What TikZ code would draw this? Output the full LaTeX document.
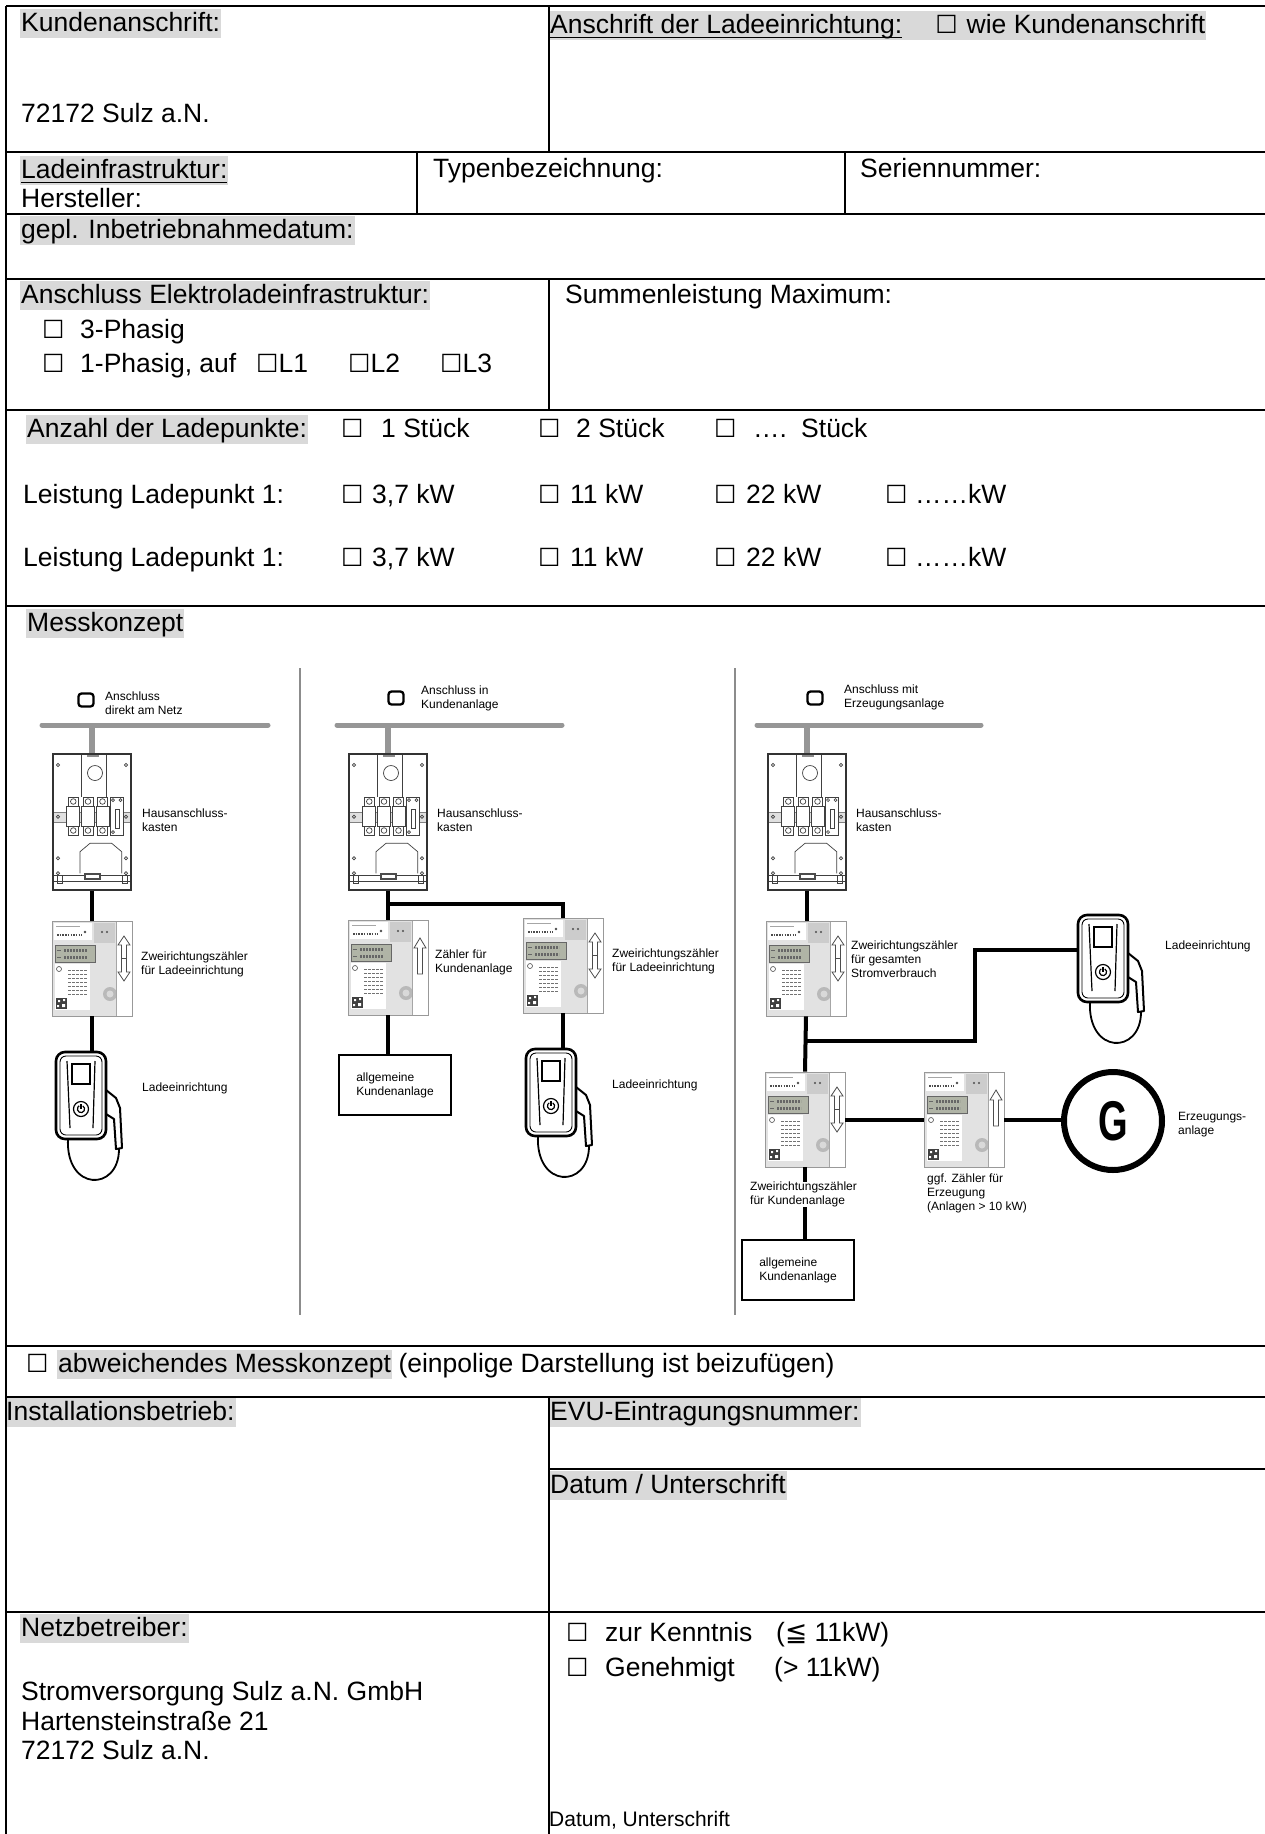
\documentclass[tikz,border=0pt]{standalone}
\usepackage{fontspec}
\setmainfont{Liberation Sans}
\newfontfamily\djv{DejaVu Sans}
\usepackage{graphicx}
\usetikzlibrary{calc}
\definecolor{hlgray}{RGB}{217,217,217}
\definecolor{busgray}{RGB}{150,150,150}
\definecolor{divgray}{RGB}{140,140,140}
\definecolor{lcd}{RGB}{176,180,166}
\definecolor{photo}{RGB}{226,226,226}
\newcommand\mainsz{\fontsize{26.5}{31}\selectfont}
\newcommand\smallsz{\fontsize{12}{13.8}\selectfont}
\newcommand\cb{{\djv\fontsize{25}{25}\selectfont ☐}}
\newcommand\ulx[1]{\setbox0\hbox{#1}\rlap{\rule[-5pt]{\wd0}{1.4pt}}\box0}
% meter arrows
\newcommand\arrD{\draw[black!70,fill=white,line width=0.8pt] (72,15) -- (78,24) -- (74.5,24) -- (74.5,51) -- (78,51) -- (72,60) -- (66,51) -- (69.5,51) -- (69.5,24) -- (66,24) -- cycle; \draw[black!70,line width=0.8pt] (69.5,37.5) -- (74.5,37.5);}
\newcommand\arrU{\draw[black!70,fill=white,line width=0.8pt] (72,18) -- (78,28) -- (74.5,28) -- (74.5,54) -- (69.5,54) -- (69.5,28) -- (66,28) -- cycle;}
% electricity meter: name, x, y (top left), arrow
\newcommand\meter[4]{%
 \begin{scope}[shift={(#2,#3)}]
  \fill[photo] (0.5,0.5) rectangle (64.5,94.5);
  \fill[white] (2,2) rectangle (40,19);
  \draw[gray!70,line width=0.5pt] (4,5) -- (28,5);
  \draw[black!70,line width=2.5pt,dash pattern=on 1.5pt off 1.2pt] (5,14) -- (30,14);
  \fill[black!70] (33,11) circle (1.3);
  \fill[gray!40] (42,2) rectangle (63,22);
  \fill[black!70] (50,11) circle (1.2) (55,11) circle (1.2);
  \fill[lcd] (3,24) rectangle (43,41);
  \draw[black!60,line width=0.5pt] (3,24) rectangle (43,41);
  \draw[black!60,line width=3pt,dash pattern=on 2pt off 1pt] (12,29) -- (36,29) (12,36) -- (36,36);
  \draw[black!60,line width=1pt] (5,29)--(9,29) (5,36)--(9,36);
  \fill[white] (3,43) rectangle (38,89);
  \foreach \yy in {49,53,57,61,65,69,73} {\draw[black!55,line width=0.8pt,dash pattern=on 3pt off 1pt] (16,\yy) -- (36,\yy);}
  \draw[black!70,line width=0.6pt] (7,48) circle (2.5);
  \fill[black!75] (4,77) rectangle (15,88);
  \fill[white] (6,79) rectangle (8,81) (10,83) rectangle (13,86) (5,84) rectangle (7,86) (11,78) rectangle (13,80);
  \fill[gray!55] (58,73) circle (7);
  \fill[gray!30] (58,73) circle (3.5);
  \fill[white] (64.5,0.5) rectangle (79.5,94.5);
  \draw[gray!70,line width=0.6pt] (64.5,0.5) -- (64.5,94.5);
  #4
 \end{scope}
 \node[meterbox] (#1) at (#2+40,#3+47.5) {};}
% house connection box
\newcommand\hak[3]{%
 \begin{scope}[shift={(#2,#3)},line width=0.7pt,draw=black!75]
  \fill[white] (0,0) rectangle (78,136);
  \fill[black!12] (0,58) rectangle (78,68);
  \draw[black!50] (0,58) -- (78,58) (0,68) -- (78,68);
  \draw (28.7,0) -- (28.7,43) (53.7,0) -- (53.7,43);
  \draw (42,19) circle (7.5);
  \foreach \xx in {15.3,30,44.5} {\draw[fill=white] (\xx,43) rectangle ++(10,9); \draw (\xx+5,47.5) circle (2.8); \draw[fill=white] (\xx-1.5,52) rectangle ++(13,20); \draw[fill=white] (\xx,72) rectangle ++(10,9); \draw (\xx+5,76.5) circle (2.8);}
  \draw[fill=white] (57.5,43) rectangle (70.5,81);
  \draw (62,55) rectangle (66.5,74);
  \draw (60,46) circle (1.5) (67.5,46) circle (1.5) (60,78) circle (1.5);
  \foreach \yy in {11,62.7,104.3,119.3} {\draw (5,\yy) circle (1.6); \draw (73,\yy) circle (1.6);}
  \draw (27,119.3) -- (27,97.7) -- (37,89.3) -- (58.7,89.3) -- (68.7,97.7) -- (68.7,119.3);
  \draw (0,121) -- (78,121) (0,127) -- (78,127);
  \draw (4,121) rectangle (9,129) (69,121) rectangle (74,129);
  \fill[black!70] (31,119) rectangle (48,126);
  \fill[white] (33,121) rectangle (46,124);
  \fill[black!45] (33.5,0) rectangle (45.5,3);
 \end{scope}
 \node[hakbox] (#1) at (#2+39,#3+68) {};}
% charging station
\newcommand\wallbox[3]{%
 \begin{scope}[shift={(#2,#3)}]
  \draw[line width=2pt,fill=white,line join=round] (50,38) -- (60,46) -- (64,56) -- (66,96) -- (60,97) -- (58,67) -- (50,62);
  \draw[line width=1.8pt] (12,86) .. controls (9,140) and (63,140) .. (63,97);
 \end{scope}
 \node[wbbox] (#1) at (#2+25,#3+43.5) {};
 \begin{scope}[shift={(#2,#3)}]
  \draw[line width=0.9pt,rounded corners=6pt] (4,4) rectangle (46,83);
  \draw[line width=1.2pt] (11,9) -- (14,76) (39,9) -- (37,76);
  \draw[line width=1.3pt] (16,12) rectangle (34,32);
  \draw[line width=1.2pt] (25,57) circle (7.5);
  \draw[line width=1.2pt] ([shift={(300:3.6)}]25,57) arc[start angle=300,end angle=600,radius=3.6];
  \draw[line width=1.2pt] (25,52) -- (25,57);
 \end{scope}}
\begin{document}
\begin{tikzpicture}[x=1pt,y=-1pt,
  tl/.style={draw=black,line width=1.3pt},
  lbl/.style={anchor=base west,inner xsep=1pt,inner ysep=0pt,text height=22pt,text depth=7pt,font=\mainsz},
  hl/.style={lbl,fill=hlgray},
  dl/.style={anchor=north west,inner sep=0pt,font=\smallsz,align=left},
  wire/.style={line width=4pt,black},
  bus/.style={line width=5pt,busgray,line cap=round},
  stub/.style={line width=6pt,busgray},
  divline/.style={line width=2.5pt,divgray},
  cbx/.style={draw,line width=2.3pt,rounded corners=3pt,minimum width=15pt,minimum height=13pt,inner sep=0pt},
  meterbox/.style={draw=gray!80,line width=0.8pt,minimum width=80pt,minimum height=95pt,inner sep=0pt},
  hakbox/.style={draw=black!80,line width=1.1pt,minimum width=78pt,minimum height=136pt,inner sep=0pt},
  wbbox/.style={draw,line width=2.6pt,rounded corners=9pt,minimum width=50pt,minimum height=87pt,inner sep=0pt,fill=white},
  gbox/.style={draw,line width=1.8pt,minimum width=112pt,minimum height=60pt,inner sep=0pt,font=\smallsz,align=left},
  gen/.style={circle,draw,line width=6pt,minimum size=98pt,inner sep=0pt,font=\fontsize{56}{56}\selectfont\bfseries}
]
\fill[white] (0,0) rectangle (1265,1834);
\useasboundingbox (0,0) rectangle (1265,1834);

% ---------- texts of the form ----------
\node[hl] (t1) at (20,31) {Kundenanschrift:};
\node[hl] (t2) at (549,33) {\ulx{Anschrift der Ladeeinrichtung:}\hspace{33pt}\cb\hspace{9pt}wie Kundenanschrift};
\node[lbl] (t3) at (20,122) {72172 Sulz a.N.};
\node[hl] (t4) at (20,178) {\ulx{Ladeinfrastruktur:}};
\node[lbl] (t5) at (20,207) {Hersteller:};
\node[lbl] (t6) at (432,177) {Typenbezeichnung:};
\node[lbl] (t7) at (859,177) {Seriennummer:};
\node[hl] (t8) at (20,238) {gepl. Inbetriebnahmedatum:};
\node[hl] (t9) at (20,303) {Anschluss Elektroladeinfrastruktur:};
\node[lbl] (c1) at (41,338) {\cb};
\node[lbl] (t10) at (79,338) {3-Phasig};
\node[lbl] (c2) at (41,372) {\cb};
\node[lbl] (t11) at (79,372) {1-Phasig, auf};
\node[lbl] (t12) at (255,372) {\cb L1};
\node[lbl] (t13) at (347,372) {\cb L2};
\node[lbl] (t14) at (439,372) {\cb L3};
\node[lbl] (t15) at (564,303) {Summenleistung Maximum:};

\node[hl] (t16) at (26,437) {Anzahl der Ladepunkte:};
\node[lbl] (c3) at (340,437) {\cb};
\node[lbl] (t17) at (380,437) {1 Stück};
\node[lbl] (c4) at (537,437) {\cb};
\node[lbl] (t18) at (575,437) {2 Stück};
\node[lbl] (c5) at (713,437) {\cb};
\node[lbl] (t19) at (752,437) {….};
\node[lbl] (t20) at (800,437) {Stück};

\node[lbl] (t21) at (22,503) {Leistung Ladepunkt 1:};
\node[lbl] (c6) at (340,503) {\cb};
\node[lbl] (t22) at (371,503) {3,7 kW};
\node[lbl] (c7) at (537,503) {\cb};
\node[lbl] (t23) at (569,503) {11 kW};
\node[lbl] (c8) at (713,503) {\cb};
\node[lbl] (t24) at (745,503) {22 kW};
\node[lbl] (c9) at (884,503) {\cb};
\node[lbl] (t25) at (914,503) {……kW};

\node[lbl] (t26) at (22,566) {Leistung Ladepunkt 1:};
\node[lbl] (c10) at (340,566) {\cb};
\node[lbl] (t27) at (371,566) {3,7 kW};
\node[lbl] (c11) at (537,566) {\cb};
\node[lbl] (t28) at (569,566) {11 kW};
\node[lbl] (c12) at (713,566) {\cb};
\node[lbl] (t29) at (745,566) {22 kW};
\node[lbl] (c13) at (884,566) {\cb};
\node[lbl] (t30) at (914,566) {……kW};

\node[hl] (t31) at (26,631) {Messkonzept};

\node[lbl] (c20) at (25,1372) {\cb};
\node[hl] (t32) at (57,1372) {abweichendes Messkonzept};
\node[lbl,inner xsep=0pt,xshift=6pt] (t33) at (t32.base east) {(einpolige Darstellung ist beizufügen)};

\node[hl] (t34) at (5,1420) {Installationsbetrieb:};
\node[hl] (t35) at (549,1420) {EVU-Eintragungsnummer:};
\node[hl] (t36) at (549,1493) {Datum / Unterschrift};

\node[hl] (t37) at (20,1636) {Netzbetreiber:};
\node[lbl] (t38) at (20,1700) {Stromversorgung Sulz a.N. GmbH};
\node[lbl] (t39) at (20,1730) {Hartensteinstraße 21};
\node[lbl] (t40) at (20,1759) {72172 Sulz a.N.};
\node[lbl] (c21) at (565,1641) {\cb};
\node[lbl] (t41) at (604,1641) {zur Kenntnis};
\node[lbl] (t42) at (775,1641) {({\djv ≦} 11kW)};
\node[lbl] (c22) at (565,1676) {\cb};
\node[lbl] (t43) at (604,1676) {Genehmigt};
\node[lbl] (t44) at (773,1676) {(> 11kW)};
\node[anchor=base west,inner sep=0pt,font=\fontsize{21}{24}\selectfont] (t45) at (549,1826) {Datum, Unterschrift};

% ---------- table lines ----------
\draw[tl] (6,6) -- (1265,6);
\draw[tl] (6,6) -- (6,1834);
\foreach \yy in {152,214,279,410,606,1346,1397,1612} {\draw[tl] (6,\yy) -- (1265,\yy);}
\draw[tl] (549,6) -- (549,152);
\draw[tl] (417,152) -- (417,214);
\draw[tl] (845,152) -- (845,214);
\draw[tl] (549,279) -- (549,410);
\draw[tl] (549,1397) -- (549,1834);
\draw[tl] (549,1469) -- (1265,1469);

% ---------- Messkonzept diagrams ----------
\draw[divline] (300,668) -- (300,1315);
\draw[divline] (735,668) -- (735,1315);

% panel 1
\node[cbx] (k1) at (86,700) {};
\node[dl] (a1) at (105,691.5) {Anschluss\\direkt am Netz};
\coordinate (b1w) at (42,725);
\coordinate (b1e) at (268,725);
\draw[bus] (b1w) -- (b1e);
\hak{h1}{53}{754}
\draw[stub] (h1.north |- b1w) -- (h1.north);
\meter{m1}{52}{921}{\arrD}
\wallbox{w1}{56}{1052}
\draw[wire] (h1.south) -- (h1.south |- m1.north);
\draw[wire] (m1.south) -- (m1.south |- w1.north);
\node[dl] (a2) at (142,809) {Hausanschluss-\\kasten};
\node[dl] (a3) at (141,951.5) {Zweirichtungszähler\\für Ladeeinrichtung};
\node[dl] (a4) at (142,1083) {Ladeeinrichtung};

% panel 2
\node[cbx] (k2) at (396,698) {};
\node[dl] (a5) at (421,685.5) {Anschluss in\\Kundenanlage};
\coordinate (b2w) at (337,725);
\coordinate (b2e) at (562,725);
\draw[bus] (b2w) -- (b2e);
\hak{h2}{349}{754}
\draw[stub] (h2.north |- b2w) -- (h2.north);
\meter{m2a}{348}{920}{\arrU}
\meter{m2b}{523}{918}{\arrD}
\coordinate (jy2) at (0,904);
\coordinate (j2) at (h2.south |- jy2);
\draw[wire] (h2.south) -- (j2) -| (m2b.north);
\draw[wire] (j2) -- (j2 |- m2a.north);
\node[gbox] (g2) at (395,1085) {allgemeine\\Kundenanlage};
\draw[wire] (m2a.south) -- (m2a.south |- g2.north);
\wallbox{w2}{526}{1049}
\draw[wire] (m2b.south) -- (m2b.south |- w2.north);
\node[dl] (a6) at (437,809) {Hausanschluss-\\kasten};
\node[dl] (a7) at (435,949.5) {Zähler für\\Kundenanlage};
\node[dl] (a8) at (612,948.5) {Zweirichtungszähler\\für Ladeeinrichtung};
\node[dl] (a9) at (612,1080) {Ladeeinrichtung};

% panel 3
\node[cbx] (k3) at (815,698) {};
\node[dl] (a10) at (844,685) {Anschluss mit\\Erzeugungsanlage};
\coordinate (b3w) at (757,725);
\coordinate (b3e) at (981,725);
\draw[bus] (b3w) -- (b3e);
\hak{h3}{768}{754}
\draw[stub] (h3.north |- b3w) -- (h3.north);
\meter{m3a}{766}{921}{\arrD}
\meter{m3b}{765}{1072}{\arrD}
\meter{m3c}{924}{1072}{\arrU}
\wallbox{w3}{1078}{915}
\node[gen] (G) at (1113,1121) {\scalebox{0.68}[1]{G}};
\draw[wire] (h3.south) -- (h3.south |- m3a.north);
\draw[wire] (m3a.south) -- (m3b.north);
\coordinate (jy3) at (0,1041);
\coordinate (j3) at (m3a.south |- jy3);
\coordinate (k3c) at (975,950);
\draw[wire] (j3) -| (k3c) -- (k3c -| w3.west);
\draw[wire] (m3b.east) -- (m3c.west);
\draw[wire] (m3c.east) -- (m3c.east -| G.west);
\node[gbox] (g3) at (798,1270) {allgemeine\\Kundenanlage};
\draw[wire] (m3b.south) -- (m3b.south |- g3.north);
\node[dl] (a11) at (856,809) {Hausanschluss-\\kasten};
\node[dl] (a12) at (851,940.5) {Zweirichtungszähler\\für gesamten\\Stromverbrauch};
\node[dl] (a13) at (1165,941) {Ladeeinrichtung};
\node[dl] (a14) at (1178,1112.5) {Erzeugungs-\\anlage};
\node[dl,fill=white] (a15) at (750,1182) {Zweirichtungszähler\\für Kundenanlage};
\node[dl] (a16) at (927,1173.5) {ggf. Zähler für\\Erzeugung\\(Anlagen > 10 kW)};
\end{tikzpicture}
\end{document}
